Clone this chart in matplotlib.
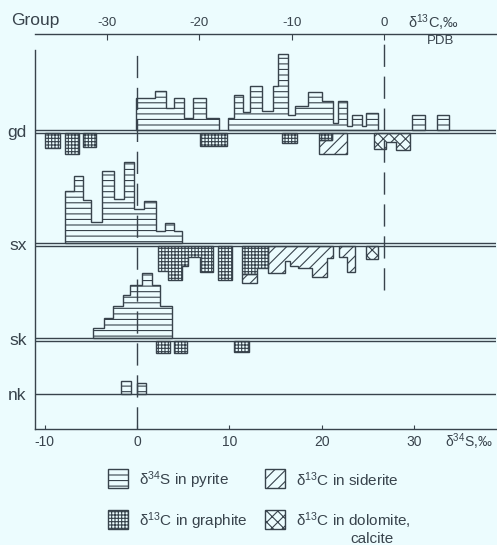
import numpy as np
import matplotlib
matplotlib.use("Agg")
import matplotlib.pyplot as plt
from matplotlib.patches import Rectangle

nan = np.nan

BG = '#ecfcfe'
INK = '#38434c'

# 0 permil d13C (PDB) sits at this d34S position on the shared x scale
C_SHIFT = 26.76

groups = ["gd", "sx", "sk", "nk"]
group_base = [59.7, 37.1, 18.2, 7.0]   # upper line of each group, count units
GAP = 0.6                                # distance to the lower line

# ---- gd ----
gd_py_edges = [-0.1, 1.95, 3.14, 4.01, 5.09, 6.07, 7.48, 8.88, 9.86, 10.51, 11.48, 12.24,
               13.54, 14.73, 15.28, 16.36, 17.12, 18.53, 20.04, 21.24, 21.78, 22.75, 23.29,
               24.38, 24.81, 26.11, 29.79, 31.2, 32.5, 33.8]
gd_py_counts = [6.4, 7.8, 4.4, 6.4, 2.4, 6.4, 2.4, nan, 2.4, 7.0, 3.6, 8.8, 3.8, 8.8, 15.2,
                3.0, 4.8, 7.6, 5.8, 1.4, 5.8, 0.8, 3.0, 0.8, 3.4, nan, 3.0, nan, 3.0]
gd_gr_edges = [-36.75, -35.1, -34.55, -33.05, -32.6, -31.2, -19.95, -17.0, -11.05, -9.45,
               -7.05, -5.65]
gd_gr_counts = [2.9, nan, 4.1, nan, 2.7, nan, 2.6, nan, 1.9, nan, 1.4]
gd_sd_edges = [-7.05, -5.65, -4.0]
gd_sd_counts = [4.2, 4.2]
gd_sd_from = [1.4, 0.0]
gd_dol_edges = [-1.1, 0.22, 1.3, 2.82]
gd_dol_counts = [3.2, 1.8, 3.4]

# ---- sx ----
sx_py_edges = [-7.8, -6.79, -5.81, -4.98, -3.82, -2.49, -1.44, -0.27, 0.76, 2.06, 3.03,
               4.01, 4.84]
sx_py_counts = [10.3, 13.4, 8.7, 4.3, 14.5, 8.9, 16.3, 6.9, 8.3, 2.5, 4.1, 2.5]
sx_gr_edges = [-24.45, -23.37, -21.92, -21.2, -19.93, -18.49, -17.95, -16.5, -15.42,
               -13.79, -12.54]
sx_gr_counts = [5.0, 6.8, 4.0, 2.2, 5.2, nan, 6.8, nan, 5.6, 4.4]
sx_sd_edges = [-15.42, -13.79, -12.54, -10.73, -10.18, -9.29, -7.83, -6.14, -5.49, -4.84,
               -4.04, -3.14]
sx_sd_counts = [7.4, nan, 5.3, 3.0, 4.0, 4.4, 6.1, 2.4, nan, 2.1, 5.1]
sx_sd_from = [5.6, 0, 0, 0, 0, 0, 0, 0, 0, 0, 0]
sx_dol_edges = [-1.95, -0.65]
sx_dol_counts = [2.6]

# ---- sk ----
sk_py_edges = [-4.73, -3.58, -2.57, -1.55, -0.76, 0.51, 1.59, 2.49, 3.76]
sk_py_counts = [2.0, 4.0, 6.3, 8.5, 10.5, 13.0, 10.5, 6.3]
sk_gr_edges = [-24.7, -23.2, -22.75, -21.3, -16.25, -14.6]
sk_gr_counts = [2.4, nan, 2.4, nan, 2.2]

# ---- nk ----
nk_py_edges = [-1.73, -0.65, 0.03, 0.98]
nk_py_counts = [2.5, nan, 2.1]

HATCH = {'pyrite': '---', 'siderite': '///', 'graphite': '+++++', 'dolomite': 'xxx'}

plt.rcParams['font.family'] = ['Liberation Sans', 'DejaVu Sans']
plt.rcParams['mathtext.default'] = 'regular'
plt.rcParams['axes.unicode_minus'] = False
plt.rcParams['hatch.linewidth'] = 0.8


def blocks(ax, edges, counts, base, hatch, down=False, start=None, shift=0.0):
    """draw step histogram blocks, split into runs where counts is nan"""
    edges = np.asarray(edges, float) + shift
    counts = np.asarray(counts, float)
    start = np.zeros_like(counts) if start is None else np.asarray(start, float)
    sign = -1 if down else 1
    ok = ~np.isnan(counts)
    i, n = 0, len(counts)
    while i < n:
        if not ok[i]:
            i += 1
            continue
        j = i
        while j < n and ok[j]:
            j += 1
        ax.stairs(base + sign * counts[i:j], edges[i:j + 1],
                  baseline=base + sign * start[i:j], fill=True,
                  facecolor='none', edgecolor=INK, hatch=hatch, lw=1.0, zorder=3)
        i = j


fig = plt.figure(figsize=(4.97, 5.45), dpi=100, facecolor=BG)
ax = fig.add_axes([35 / 497, 116.5 / 545, 461 / 497, 394.5 / 545])
ax.set_facecolor(BG)
ax.set_xlim(-11.05, 38.9)
ax.set_ylim(0, 78.9)

# baselines
for g, b in zip(groups, group_base):
    ax.axhline(b, color=INK, lw=1.0, zorder=2)
    if g != 'nk':
        ax.axhline(b - GAP, color=INK, lw=1.0, zorder=2)

gd, sx, sk, nk = group_base
blocks(ax, gd_py_edges, gd_py_counts, gd, HATCH['pyrite'])
blocks(ax, gd_gr_edges, gd_gr_counts, gd - GAP, HATCH['graphite'], True, shift=C_SHIFT)
blocks(ax, gd_sd_edges, gd_sd_counts, gd - GAP, HATCH['siderite'], True, gd_sd_from, C_SHIFT)
blocks(ax, gd_dol_edges, gd_dol_counts, gd - GAP, HATCH['dolomite'], True, shift=C_SHIFT)

blocks(ax, sx_py_edges, sx_py_counts, sx, HATCH['pyrite'])
blocks(ax, sx_gr_edges, sx_gr_counts, sx - GAP, HATCH['graphite'], True, shift=C_SHIFT)
blocks(ax, sx_sd_edges, sx_sd_counts, sx - GAP, HATCH['siderite'], True, sx_sd_from, C_SHIFT)
blocks(ax, sx_dol_edges, sx_dol_counts, sx - GAP, HATCH['dolomite'], True, shift=C_SHIFT)

blocks(ax, sk_py_edges, sk_py_counts, sk, HATCH['pyrite'])
blocks(ax, sk_gr_edges, sk_gr_counts, sk - GAP, HATCH['graphite'], True, shift=C_SHIFT)

blocks(ax, nk_py_edges, nk_py_counts, nk, HATCH['pyrite'])

# zero lines for both scales
dash = (0, (16, 7))
ax.vlines(0, 0, 75.7, colors=INK, lw=1.0, linestyles=[dash], zorder=4)
ax.vlines(C_SHIFT, 27.7, 78.9, colors=INK, lw=1.0, linestyles=[dash], zorder=4)

# axes styling
for side in ['right', 'top']:
    ax.spines[side].set_visible(False)
for side in ['left', 'bottom']:
    ax.spines[side].set_color(INK)
    ax.spines[side].set_linewidth(1.0)
ax.spines['left'].set_bounds(0, 75.7)

ax.set_xticks([-10, 0, 10, 20, 30])
ax.tick_params(axis='x', direction='in', length=3, labelsize=10, pad=4.5,
               colors=INK, labelcolor=INK)
ax.set_yticks([b - GAP / 2 if g != 'nk' else b for g, b in zip(groups, group_base)], groups)
ax.tick_params(axis='y', length=0, pad=6, labelsize=12.5, labelcolor=INK)

sec = ax.secondary_xaxis('top', functions=(lambda x: x - C_SHIFT, lambda x: x + C_SHIFT))
sec.set_xticks([-30, -20, -10, 0])
sec.tick_params(direction='in', length=4, labelsize=9.5, pad=3.5, colors=INK,
                labelcolor=INK)
sec.spines['top'].set_color(INK)
sec.spines['top'].set_linewidth(1.0)

fig.text(11 / 497, 1 - 21 / 545, 'Group', fontsize=12.5, color=INK, va='center')
fig.text(408 / 497, 1 - 23 / 545, r'δ$^{13}$C,‰', fontsize=10.5, color=INK, va='center')
fig.text(441 / 497, 1 - 41 / 545, 'PDB', fontsize=9.5, color=INK, va='center',
         ha='center')
fig.text(445 / 497, 1 - 442 / 545, r'δ$^{34}$S,‰', fontsize=10, color=INK, va='center')

# legend drawn in pixel space
lax = fig.add_axes([0, 0, 1, 1])
lax.set_xlim(0, 497)
lax.set_ylim(545, 0)
lax.axis('off')
legend_items = [(r'δ$^{34}$S in pyrite', 'pyrite', 108, 469),
                (r'δ$^{13}$C in siderite', 'siderite', 265, 469),
                (r'δ$^{13}$C in graphite', 'graphite', 108, 510),
                (r'δ$^{13}$C in dolomite,', 'dolomite', 265, 510)]
for label, kind, x0, y0 in legend_items:
    lax.add_patch(Rectangle((x0, y0), 20, 19, facecolor='none', edgecolor=INK,
                            hatch=HATCH[kind], lw=1.0))
    lax.text(x0 + 31, y0 + 11, label, fontsize=11, color=INK, va='center')
lax.text(350, 539, 'calcite', fontsize=11, color=INK, va='center')

fig.savefig('out.png', dpi=100, facecolor=BG)
